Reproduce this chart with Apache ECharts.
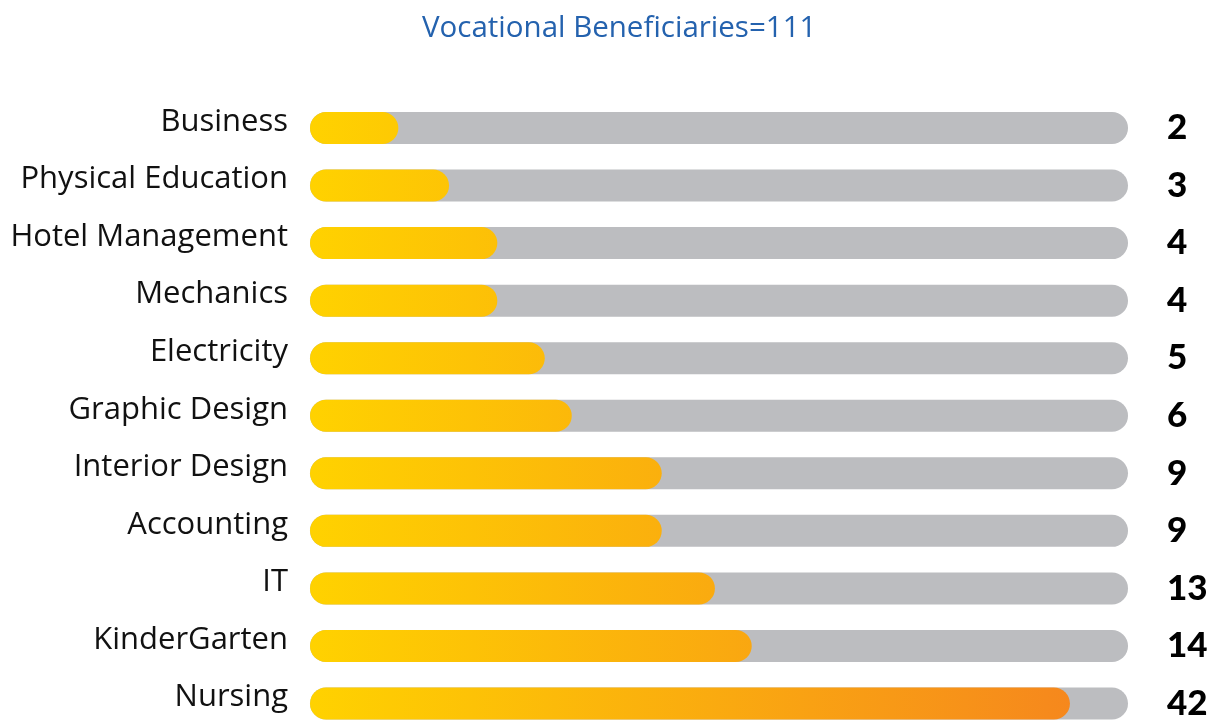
<!DOCTYPE html>
<html><head><meta charset="utf-8">
<script src="https://cdn.jsdelivr.net/npm/echarts@6/dist/echarts.min.js"></script>
<style>html,body{margin:0;padding:0;background:#fff}#c{width:1214px;height:721px}</style>
</head><body><div id="c"></div>
<script>
const categories = ["Business","Physical Education","Hotel Management","Mechanics","Electricity","Graphic Design","Interior Design","Accounting","IT","KinderGarten","Nursing"];
const values = [2,3,4,4,5,6,9,9,13,14,42];
// visual fill share (%) of each track, as drawn in the reference
const fillPercent = [10.8,17.0,22.9,22.9,28.7,32.0,43.0,43.0,49.5,54.0,92.9];

const chart = echarts.init(document.getElementById('c'));
const font = '"Open Sans", sans-serif';
chart.setOption({
  animation:false,
  title:{text:'Vocational Beneficiaries=111',left:417,top:9,textStyle:{color:'#2462AE',fontSize:29.5,fontWeight:'normal',fontFamily:font}},
  grid:{left:310,right:86,top:128,bottom:17},
  xAxis:{type:'value',min:0,max:100,show:false},
  yAxis:[
    {type:'category',data:categories,inverse:true,boundaryGap:false,axisLine:{show:false},axisTick:{show:false},splitLine:{show:false},
     axisLabel:{margin:22,formatter:v=>'{a|'+v+'}',
       rich:{a:{fontSize:31,color:'#111',fontFamily:font,padding:[0,0,12,0]}}}},
    {type:'category',data:values.map(String),inverse:true,boundaryGap:false,position:'right',axisLine:{show:false},axisTick:{show:false},splitLine:{show:false},
     axisLabel:{margin:39,align:'left',fontSize:35,fontWeight:900,color:'#000',fontFamily:'Lato, sans-serif'}}
  ],
  series:[{
    type:'bar',data:fillPercent,barWidth:32,yAxisIndex:0,
    showBackground:true,
    backgroundStyle:{color:'#BCBDC0',borderRadius:16},
    itemStyle:{borderRadius:16,color:new echarts.graphic.LinearGradient(310,0,1128,0,[{offset:0,color:'#FFD200'},{offset:1,color:'#F5821F'}],true)}
  }]
});
</script></body></html>
